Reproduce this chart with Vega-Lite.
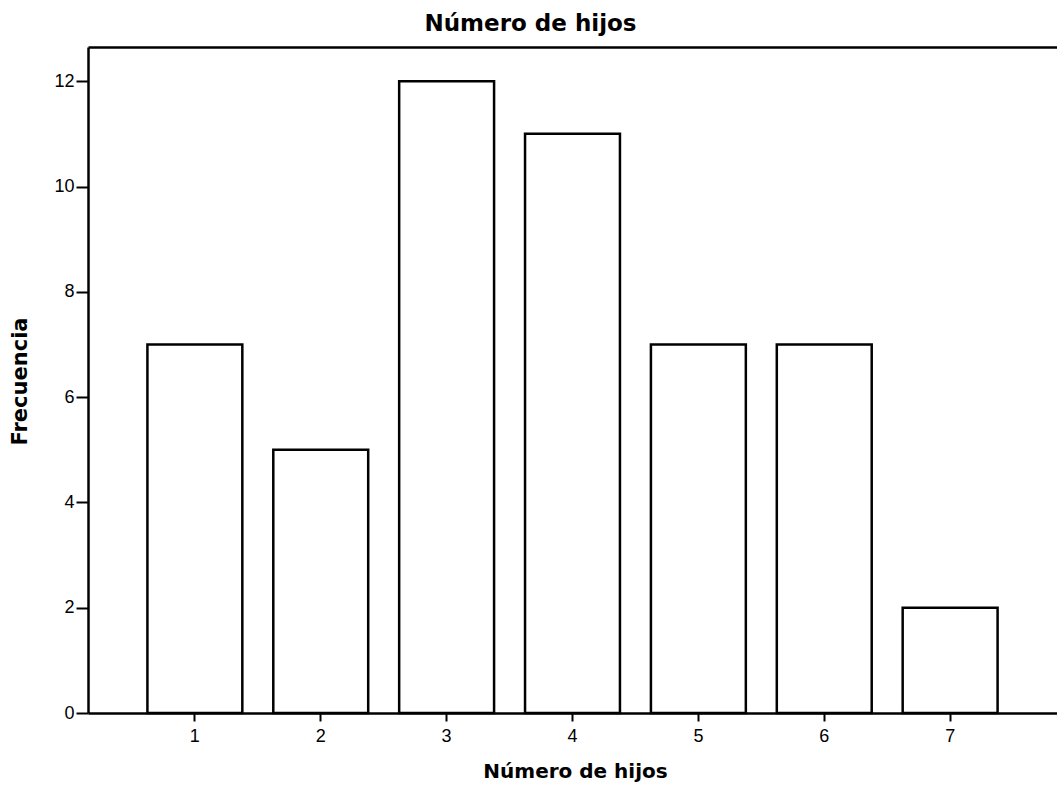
{
  "$schema": "https://vega.github.io/schema/vega-lite/v6.json",
  "autosize": "none",
  "width": 969,
  "height": 666,
  "padding": {"left": 88, "top": 47, "right": 0, "bottom": 75},
  "background": "white",
  "config": {
    "view": {"stroke": null},
    "font": "Liberation Sans",
    "axis": {"grid": false, "domainColor": "black", "domainWidth": 2.5, "tickColor": "black", "tickWidth": 2, "labelColor": "black", "titleColor": "black", "labelFont": "Liberation Sans", "titleFont": "DejaVu Sans"}
  },
  "title": {"text": "Número de hijos", "font": "DejaVu Sans", "fontSize": 23, "fontWeight": "bold", "color": "black", "anchor": "middle", "dx": -42, "dy": 22, "baseline": "alphabetic", "offset": 15},
  "data": {"values": [
    {"hijos": "1", "frecuencia": 7},
    {"hijos": "2", "frecuencia": 5},
    {"hijos": "3", "frecuencia": 12},
    {"hijos": "4", "frecuencia": 11},
    {"hijos": "5", "frecuencia": 7},
    {"hijos": "6", "frecuencia": 7},
    {"hijos": "7", "frecuencia": 2}
  ]},
  "layer": [
    {
      "mark": {"type": "bar", "fill": "white", "stroke": "black", "strokeWidth": 2.5},
      "encoding": {
        "x": {"field": "hijos", "type": "ordinal", "scale": {"paddingInner": 0.246, "paddingOuter": 0.472},
          "axis": {"orient": "bottom", "labelAngle": 0, "labelFontSize": 18, "tickSize": 8, "labelPadding": 6, "title": "Número de hijos", "titleFontSize": 20, "titleFontWeight": "bold", "titleX": 487, "titleY": 64, "titleBaseline": "alphabetic", "titleAnchor": null}},
        "y": {"field": "frecuencia", "type": "quantitative", "scale": {"domain": [0, 12.65], "nice": false},
          "axis": {"values": [0, 2, 4, 6, 8, 10, 12], "labelFontSize": 18, "tickSize": 12, "labelPadding": 2, "title": "Frecuencia", "titleFontSize": 21, "titleFontWeight": "bold", "titleAngle": -90, "titleX": -68, "titleY": 334, "titleBaseline": "middle", "titleAlign": "center", "titleAnchor": null}}
      }
    },
    {
      "mark": {"type": "bar", "opacity": 0},
      "encoding": {
        "x": {"field": "hijos", "type": "ordinal", "axis": {"orient": "top", "labels": false, "ticks": false, "title": null, "domainWidth": 2.5}},
        "y": {"field": "frecuencia", "type": "quantitative"}
      }
    }
  ]
}
